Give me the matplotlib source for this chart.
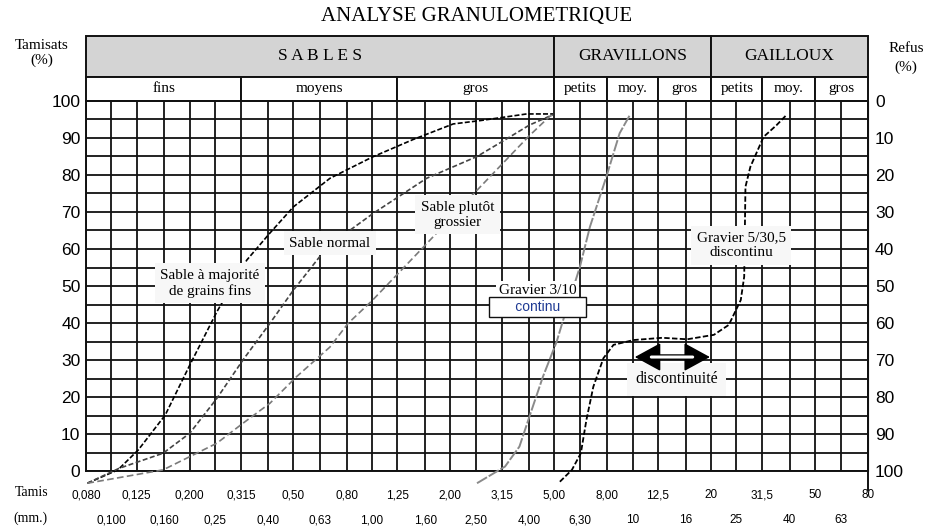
import matplotlib.pyplot as plt
from matplotlib.patches import Rectangle

plt.rcParams['font.family'] = ['Liberation Serif', 'DejaVu Serif']

# --- Data ---
tamis = [0.080, 0.100, 0.125, 0.160, 0.200, 0.25, 0.315, 0.40, 0.50, 0.63, 0.80,
         1.00, 1.25, 1.60, 2.00, 2.50, 3.15, 4.00, 5.00, 6.30, 8.00, 10, 12.5, 16,
         20, 25, 31.5, 40, 50, 63, 80]
tamis_labels = ["0,080", "0,100", "0,125", "0,160", "0,200", "0,25", "0,315", "0,40",
                "0,50", "0,63", "0,80", "1,00", "1,25", "1,60", "2,00", "2,50", "3,15",
                "4,00", "5,00", "6,30", "8,00", "10", "12,5", "16", "20", "25", "31,5",
                "40", "50", "63", "80"]
tamisats_ticks = list(range(0, 101, 10))
refus_ticks = list(range(0, 101, 10))

fins_x = [0.081, 0.106, 0.127, 0.161, 0.200, 0.254, 0.331, 0.406, 0.50, 0.69, 1.00,
          1.44, 2.05, 2.60, 3.92, 4.95]
fins_y = [-3.3, 0.3, 5.7, 15.1, 28.6, 43.0, 57.0, 64.3, 71.4, 79.1, 84.8,
          89.6, 93.8, 94.7, 96.5, 96.5]

normal_x = [0.081, 0.107, 0.158, 0.200, 0.254, 0.32, 0.406, 0.50, 0.63, 0.81, 1.01,
            1.62, 2.53, 3.24, 4.02, 4.95]
normal_y = [-3.3, 0.7, 4.8, 10.2, 19.6, 30.0, 39.9, 48.9, 57.9, 64.7, 69.6,
            79.1, 85.0, 89.5, 93.5, 96.3]

grossier_x = [0.081, 0.158, 0.254, 0.32, 0.406, 0.514, 0.69, 0.81, 1.0, 1.6, 2.5,
              4.0, 4.8, 4.95]
grossier_y = [-3.3, 0.3, 7.5, 12.9, 18.3, 25.5, 33.5, 39.9, 46.0, 61.0, 75.5,
              90.5, 95.8, 96.3]

g310_x = [2.53, 3.24, 3.68, 4.02, 4.53, 5.11, 5.4, 6.28, 6.86, 7.93, 8.92, 9.76]
g310_y = [-3.3, 1.2, 6.6, 14.7, 25.5, 34.9, 40.5, 55.2, 66.0, 79.5, 91.3, 96.2]

g5_x = [5.26, 5.85, 6.33, 6.65, 7.07, 7.73, 8.45, 10.1, 13.0, 16.2, 20.5, 23.4,
        26.0, 26.8, 27.1, 28.3, 31.8, 35.7, 38.9]
g5_y = [-2.9, 0.3, 4.8, 13.8, 22.8, 30.5, 34.1, 35.4, 36.0, 35.6, 36.8, 39.5,
        46.2, 52.5, 76.8, 82.2, 90.3, 93.5, 96.2]

bands = [("S A B L E S", 0.08, 5.0), ("GRAVILLONS", 5.0, 20), ("GAILLOUX", 20, 80)]
sub_bands = [("fins", 0.08, 0.315), ("moyens", 0.315, 1.25), ("gros", 1.25, 5.0),
             ("petits", 5.0, 8.0), ("moy.", 8.0, 12.5), ("gros", 12.5, 20),
             ("petits", 20, 31.5), ("moy.", 31.5, 50), ("gros", 50, 80)]

# --- Figure ---
fig = plt.figure(figsize=(9.29, 5.29), dpi=100)
ax = fig.add_axes([86 / 929, 58 / 529, 782 / 929, 370 / 529])
ax.set_xscale('log')
ax.set_xlim(0.08, 80)
ax.set_ylim(0, 100)

ax.set_xticks(tamis[::2])
ax.set_xticklabels(tamis_labels[::2])
ax.set_xticks(tamis[1::2], minor=True)
ax.set_xticklabels(tamis_labels[1::2], minor=True)
ax.set_yticks(tamisats_ticks)
ax.set_yticks(range(5, 100, 10), minor=True)
ax.grid(True, which='both', color='#111111', lw=1.3)
ax.set_axisbelow(True)
ax.tick_params(which='both', length=0, labelfontfamily='Liberation Sans')
ax.tick_params(axis='x', which='major', pad=13, labelsize=8.5)
ax.tick_params(axis='x', which='minor', pad=31, labelsize=8.5)
ax.tick_params(axis='y', which='major', pad=4, labelsize=12.5)
for s in ax.spines.values():
    s.set_color('#111111')
    s.set_linewidth(1.4)

sec = ax.secondary_yaxis('right', functions=(lambda v: 100 - v, lambda v: 100 - v))
sec.set_yticks(refus_ticks)
sec.tick_params(length=0, pad=5, labelsize=12.5, labelfontfamily='Liberation Sans')
sec.spines['right'].set_color('#111111')
ax.plot([80, 80], [-5, 100], color='#111111', lw=1.4, clip_on=False)

# --- Curves ---
ax.plot(fins_x, fins_y, color='black', lw=1.2, ls=(0, (3, 1.3)), clip_on=False, zorder=3)
ax.plot(normal_x, normal_y, color='#444444', lw=1.2, ls=(0, (3, 1.5)), clip_on=False, zorder=3)
ax.plot(grossier_x, grossier_y, color='#7a7a7a', lw=1.2, ls=(0, (4, 2)), clip_on=False, zorder=3)
ax.plot(g310_x, g310_y, color='#8a8a8a', lw=1.4, ls=(0, (6, 1)), clip_on=False, zorder=3)
ax.plot(g5_x, g5_y, color='black', lw=1.3, ls=(0, (3, 1.3)), clip_on=False, zorder=3)

# --- Header ---
y_mid, y_top = 106.5, 117.6
for name, a, b in bands:
    ax.add_patch(Rectangle((a, y_mid), b - a, y_top - y_mid, facecolor='#d4d4d4',
                           edgecolor='#111111', lw=1.4, clip_on=False))
    ax.text((a * b) ** 0.5, (y_mid + y_top) / 2, name, ha='center', va='center',
            fontsize=12.5)
for name, a, b in sub_bands:
    ax.add_patch(Rectangle((a, 100), b - a, y_mid - 100, facecolor='white',
                           edgecolor='#111111', lw=1.4, clip_on=False))
    ax.text((a * b) ** 0.5, (100 + y_mid) / 2, name, ha='center', va='center',
            fontsize=11)

fig.text(477 / 929, 1 - 17 / 529, "ANALYSE GRANULOMETRIQUE", ha='center', va='center',
         fontsize=15)
fig.text(42 / 929, 1 - 53 / 529, "Tamisats\n(%)", ha='center', va='center', fontsize=11)
fig.text(906 / 929, 1 - 58 / 529, "Refus\n(%)", ha='center', va='center', fontsize=11,
         linespacing=1.6)
fig.text(32 / 929, 1 - 493 / 529, "Tamis", ha='center', va='center', fontsize=10)
fig.text(30 / 929, 1 - 518 / 529, "(mm.)", ha='center', va='center', fontsize=10)

# --- Labels ---
box = dict(facecolor='#f7f7f7', edgecolor='none', pad=4)
ax.text(0.239, 50.8, "Sable à majorité\nde grains fins", ha='center', va='center',
        fontsize=11, bbox=box, zorder=4)
ax.text(0.69, 61.6, "Sable normal", ha='center', va='center', fontsize=11,
        bbox=box, zorder=4)
ax.text(2.13, 69.2, "Sable plutôt\ngrossier", ha='center', va='center', fontsize=11,
        bbox=box, zorder=4)
ax.text(4.31, 48.8, "Gravier 3/10", ha='center', va='center', fontsize=11,
        bbox=dict(facecolor='white', edgecolor='none', pad=2), zorder=4)
ax.text(4.31, 44.3, "      continu      ", ha='center', va='center', fontsize=10,
        family='Liberation Sans', color='#1f3a93',
        bbox=dict(facecolor='white', edgecolor='#111111', lw=1, boxstyle='square,pad=0.2'),
        zorder=5)
ax.text(26.1, 61.0, "Gravier 5/30,5\ndiscontinu", ha='center', va='center', fontsize=11,
        bbox=box, zorder=4)
ax.text(14.7, 24.8, "discontinuité", ha='center', va='center', fontsize=11.5,
        bbox=dict(facecolor='#f7f7f7', edgecolor='none', pad=6), zorder=4)
ax.annotate('', xy=(19.8, 30.8), xytext=(10.2, 30.8),
            arrowprops=dict(arrowstyle='<|-|>,head_length=0.55,head_width=0.3',
                            mutation_scale=30, color='black', lw=1.2,
                            shrinkA=0, shrinkB=0), zorder=5)
ax.annotate('', xy=(17.0, 30.8), xytext=(11.8, 30.8),
            arrowprops=dict(arrowstyle='-', color='black', lw=4,
                            shrinkA=0, shrinkB=0), zorder=5)
ax.annotate('', xy=(17.0, 30.8), xytext=(11.8, 30.8),
            arrowprops=dict(arrowstyle='-', color='white', lw=2.2,
                            shrinkA=0, shrinkB=0), zorder=6)

fig.savefig('out.png', dpi=100)
